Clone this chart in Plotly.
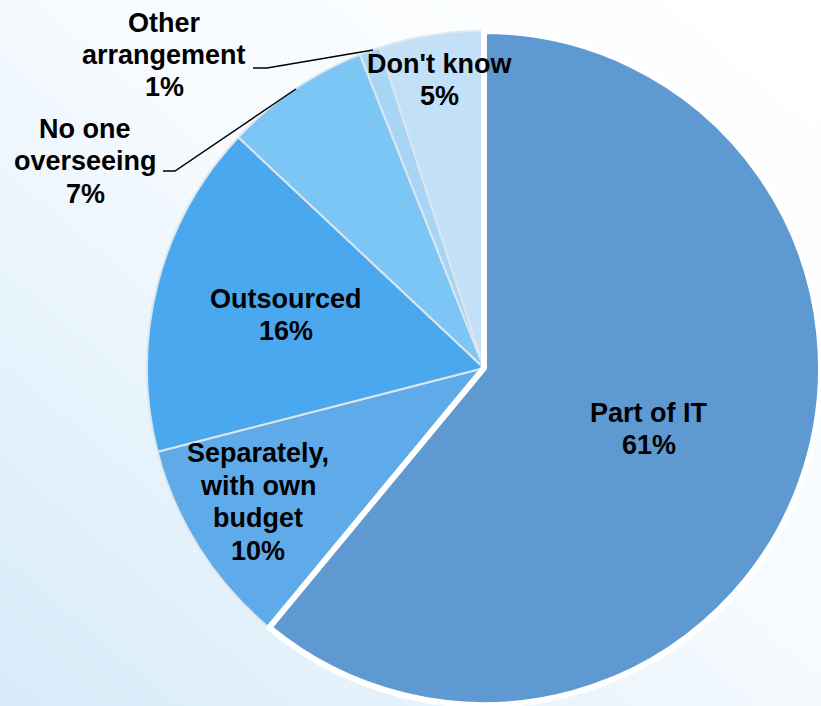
import base64
import textwrap

import plotly.graph_objects as go

# Survey: how the function is overseen in the organisation
categories = [
    "Part of IT",
    "Separately, with own budget",
    "Outsourced",
    "No one overseeing",
    "Other arrangement",
    "Don't know",
]
shares = [61, 10, 16, 7, 1, 5]

W, H = 821, 706

# Solid fills standing in for the per-slice gradients
slice_colors = {
    "Part of IT": "#5e99d2",
    "Separately, with own budget": "#5fabea",
    "Outsourced": "#4aa9ee",
    "No one overseeing": "#7cc6f6",
    "Other arrangement": "#a6d5f6",
    "Don't know": "#c2e0f7",
}

# Draw the big slice last so its wide white outline sits on top of its neighbours.
order = categories[1:] + categories[:1]
order_vals = shares[1:] + shares[:1]
start_angle = 360.0 * shares[0] / sum(shares)

line_w = [6 if c == "Part of IT" else 2 for c in order]
line_c = ["#ffffff" if c == "Part of IT" else "#dde6ee" for c in order]


def px_x(x):
    return x / W


def px_y(y):
    return 1 - y / H


# pie centre and radius in pixels
cx, cy, R = 484, 368, 337

fig = go.Figure(
    go.Pie(
        labels=order,
        values=order_vals,
        sort=False,
        direction="clockwise",
        rotation=start_angle,
        marker=dict(colors=[slice_colors[c] for c in order],
                    line=dict(width=line_w, color=line_c)),
        textinfo="none",
        hovertemplate="%{label}: %{value}%<extra></extra>",
        domain=dict(x=[px_x(cx - R), min(1.0, px_x(cx + R))],
                    y=[max(0.0, px_y(cy + R)), px_y(cy - R)]),
        showlegend=False,
    )
)

# label block centres (pixels)
label_pos = {
    "Part of IT": (649, 429),
    "Separately, with own budget": (258, 502),
    "Outsourced": (286, 315),
    "No one overseeing": (85, 161),
    "Other arrangement": (164, 55),
    "Don't know": (439, 80),
}
line_gap = 32.5

annotations = []
for cat, val in zip(categories, shares):
    lines = textwrap.wrap(cat, 11) + [f"{val}%"]
    x0, yc = label_pos[cat]
    n = len(lines)
    for i, t in enumerate(lines):
        yy = yc + (i - (n - 1) / 2) * line_gap
        annotations.append(dict(
            x=px_x(x0), y=px_y(yy), xref="paper", yref="paper",
            text=t, showarrow=False, xanchor="center", yanchor="middle",
            font=dict(family="Arial, Liberation Sans, sans-serif", size=27,
                      color="#000000", weight="bold"),
        ))

# leader lines for the two outside labels
leaders = [
    [(253, 68), (267, 68), (373, 50)],
    [(163, 171), (175, 171), (296, 89)],
]
shapes = []
for pts in leaders:
    path = "M " + " L ".join(f"{px_x(x):.5f},{px_y(y):.5f}" for x, y in pts)
    shapes.append(dict(type="path", path=path, xref="paper", yref="paper",
                       line=dict(color="#000000", width=1.5)))

# soft blue-to-white backdrop
bg_svg = (
    '<svg xmlns="http://www.w3.org/2000/svg" width="821" height="706">'
    '<defs><linearGradient id="g" x1="0" y1="1" x2="1" y2="0">'
    '<stop offset="0" stop-color="#d6ebf9"/>'
    '<stop offset="0.55" stop-color="#f7fbfe"/>'
    '<stop offset="1" stop-color="#ffffff"/>'
    '</linearGradient></defs>'
    '<rect width="821" height="706" fill="url(#g)"/></svg>'
)
bg_src = "data:image/svg+xml;base64," + base64.b64encode(bg_svg.encode()).decode()

fig.update_layout(
    width=W, height=H,
    margin=dict(l=0, r=0, t=0, b=0),
    paper_bgcolor="#ffffff",
    plot_bgcolor="rgba(0,0,0,0)",
    annotations=annotations,
    shapes=shapes,
    images=[dict(source=bg_src, xref="paper", yref="paper", x=0, y=1,
                 sizex=1, sizey=1, sizing="stretch", layer="below",
                 xanchor="left", yanchor="top")],
)

fig.write_html("out.html")
